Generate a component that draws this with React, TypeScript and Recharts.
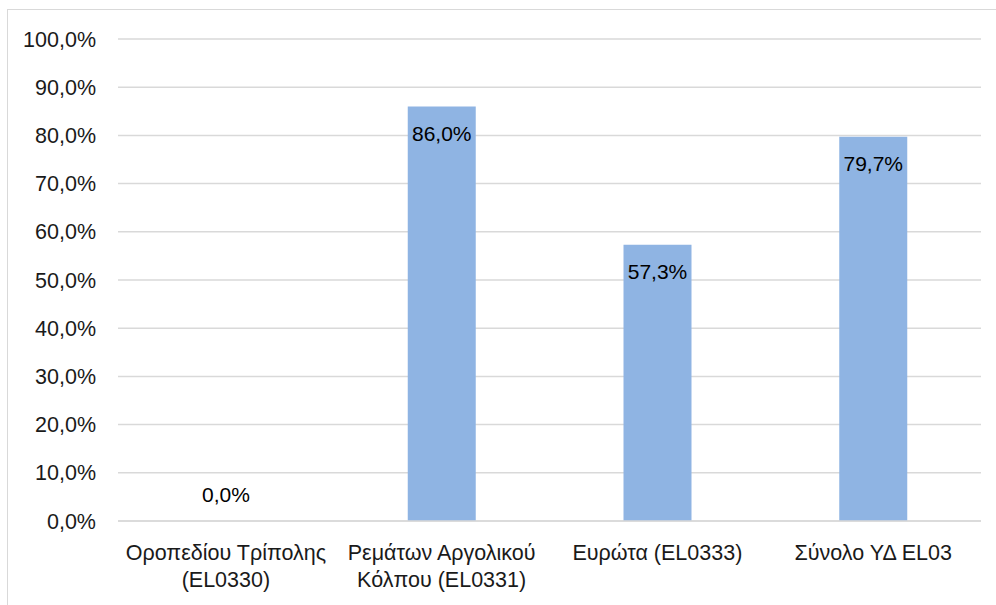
import React from "react";
import { BarChart, Bar, XAxis, YAxis, CartesianGrid, LabelList } from "recharts";

const categories = [
  "Οροπεδίου Τρίπολης\n(EL0330)",
  "Ρεμάτων Αργολικού\nΚόλπου (EL0331)",
  "Ευρώτα (EL0333)",
  "Σύνολο ΥΔ EL03",
];
const values = [0, 86.0, 57.3, 79.7];
const yTicks = [0, 10, 20, 30, 40, 50, 60, 70, 80, 90, 100];

const data = categories.map((c, i) => ({ name: c, value: values[i] }));

const FONT = "'Liberation Sans', Arial, sans-serif";
const TEXT = "#1a1a1a";
const fmt = (v: number) => v.toFixed(1).replace(".", ",") + "%";

const XTick = (props: any) => {
  const { x, y, payload } = props;
  const lines = String(payload.value).split("\n");
  return (
    <g transform={`translate(${x},${y})`}>
      {lines.map((l: string, i: number) => (
        <text
          key={i}
          x={0}
          y={32 + i * 27}
          textAnchor="middle"
          dominantBaseline="central"
          fontFamily={FONT}
          fontSize={21.5}
          fill={TEXT}
        >
          {l}
        </text>
      ))}
    </g>
  );
};

const BarLabel = (props: any) => {
  const { x, y, width, height, value } = props;
  const cx = x + width / 2;
  const ty = height < 40 ? y - 26 : y + 27;
  return (
    <text
      x={cx}
      y={ty}
      textAnchor="middle"
      dominantBaseline="central"
      fontFamily={FONT}
      fontSize={21}
      fill="#000"
    >
      {fmt(Number(value))}
    </text>
  );
};

export default function App() {
  return (
    <div style={{ position: "absolute", left: 0, top: 0, width: 996, height: 605, overflow: "hidden", background: "#fff" }}>
      <div style={{ position: "absolute", left: 7, top: 9, width: 1100, height: 700, border: "1.5px solid #d9d9d9", boxSizing: "border-box" }} />
      <div style={{ position: "absolute", left: 0, top: 0 }}>
        <BarChart width={996} height={605} data={data} margin={{ top: 39, right: 15, bottom: 0, left: 0 }} barSize={68}>
          <CartesianGrid vertical={false} stroke="#d9d9d9" strokeWidth={1.5} />
          <XAxis
            dataKey="name"
            axisLine={{ stroke: "#d9d9d9", strokeWidth: 1.5 }}
            tickLine={false}
            tickSize={0}
            tickMargin={0}
            height={84}
            interval={0}
            tick={<XTick />}
          />
          <YAxis
            domain={[0, 100]}
            ticks={yTicks}
            interval={0}
            width={118}
            axisLine={false}
            tickLine={false}
            tickSize={0}
            tickMargin={22}
            tickFormatter={fmt}
            tick={{ fontFamily: FONT, fontSize: 21.5, fill: TEXT }}
          />
          <Bar dataKey="value" fill="#8FB4E3" isAnimationActive={false} minPointSize={0.01}>
            <LabelList dataKey="value" content={<BarLabel />} />
          </Bar>
        </BarChart>
      </div>
    </div>
  );
}
